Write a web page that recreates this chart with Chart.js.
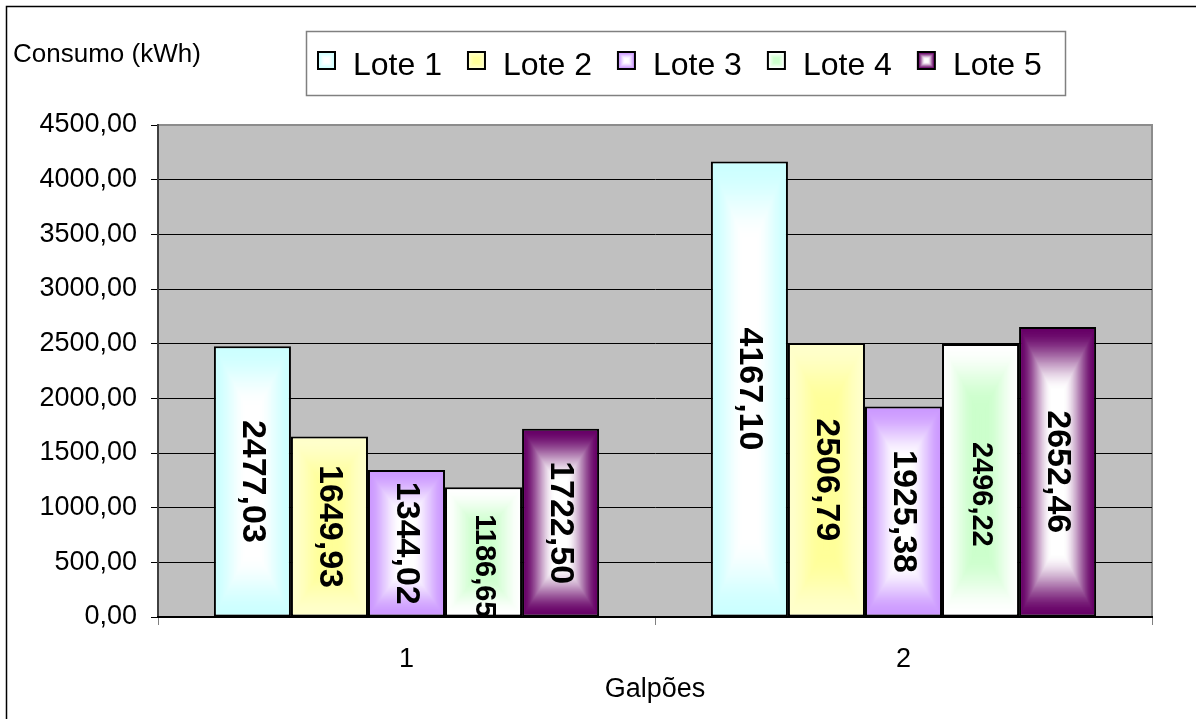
<!DOCTYPE html>
<html><head><meta charset="utf-8">
<script src="https://cdn.jsdelivr.net/npm/chart.js@4.4.0/dist/chart.umd.min.js"></script>
<style>html,body{margin:0;padding:0;background:#fff}#wrap{width:1196px;height:719px;position:relative}</style>
</head><body><div id="wrap"><canvas id="c" width="1196" height="719"></canvas></div>
<script>
// ---- data ----
const categories = ['1', '2'];
const seriesNames = ['Lote 1', 'Lote 2', 'Lote 3', 'Lote 4', 'Lote 5'];
const lote1 = [2477.03, 4167.10];
const lote2 = [1649.93, 2506.79];
const lote3 = [1344.02, 1925.38];
const lote4 = [1186.65, 2496.22];
const lote5 = [1722.50, 2652.46];
const yTickLabels = ['0,00', '500,00', '1000,00', '1500,00', '2000,00', '2500,00', '3000,00', '3500,00', '4000,00', '4500,00'];
const yAxisLabel = 'Consumo (kWh)';
const xAxisLabel = 'Galpões';

// ---- styles ----
const edgeColors = ['#CCFFFF', '#FFFFCC', '#CC99FF', '#FFFFFF', '#660066'];
const centerColors = ['#FFFFFF', '#FFFF99', '#FFFFFF', '#CCFFCC', '#FFFFFF'];
const FONT = '"Liberation Sans", Arial, sans-serif';

function hexRgb(h) { h = h.replace('#', ''); return [parseInt(h.substr(0, 2), 16), parseInt(h.substr(2, 2), 16), parseInt(h.substr(4, 2), 16)]; }
function mixColor(a, b, t) {
  const A = hexRgb(a), B = hexRgb(b);
  return 'rgb(' + A.map((v, i) => Math.round(v + (B[i] - v) * t)).join(',') + ')';
}
function gradCanvas(w, h, edge, center) {
  const W = Math.max(1, Math.round(w)), H = Math.max(1, Math.round(h));
  const cv = document.createElement('canvas'); cv.width = W; cv.height = H;
  const g = cv.getContext('2d');
  const hx = W / 2, hy = H / 2;
  const ry = Math.min(hy, Math.sqrt(hx * hy));
  const N = 60;
  for (let i = 0; i < N; i++) {
    const t = i / N;
    const ix = t * hx, iy = t * ry;
    const k = Math.min(1, t / 0.85);
    const e = k * k * (3 - 2 * k);
    g.fillStyle = mixColor(edge, center, e);
    g.fillRect(ix, iy, W - 2 * ix, H - 2 * iy);
  }
  return cv;
}
function fmt(v) { return v.toFixed(2).replace('.', ','); }

const seriesData = [lote1, lote2, lote3, lote4, lote5];

const fillPlugin = {
  id: 'fills',
  beforeDraw(chart) {
    const { ctx, chartArea: a } = chart;
    ctx.save();
    ctx.fillStyle = '#fff'; ctx.fillRect(0, 0, chart.width, chart.height);
    ctx.strokeStyle = '#000'; ctx.lineWidth = 1.5;
    ctx.strokeRect(6.5, 6.5, 1300, 800);
    ctx.fillStyle = '#C0C0C0';
    ctx.fillRect(a.left, a.top, a.right - a.left, a.bottom - a.top);
    ctx.strokeStyle = '#8C8C8C'; ctx.lineWidth = 2;
    ctx.strokeRect(a.left, a.top, a.right - a.left, a.bottom - a.top);
    ctx.restore();
  },
  beforeDatasetsDraw(chart) {
    const ctx = chart.ctx;
    chart.data.datasets.forEach((ds, di) => {
      const meta = chart.getDatasetMeta(di);
      meta.data.forEach(el => {
        const p = el.getProps(['x', 'y', 'base', 'width'], true);
        const left = p.x - p.width / 2, top = Math.min(p.y, p.base);
        const h = Math.abs(p.base - p.y);
        const cv = gradCanvas(p.width, h, edgeColors[di], centerColors[di]);
        const pat = ctx.createPattern(cv, 'no-repeat');
        pat.setTransform(new DOMMatrix([1, 0, 0, 1, left, top]));
        el.options.backgroundColor = pat;
      });
    });
  },
  afterDatasetsDraw(chart) {
    const ctx = chart.ctx;
    chart.data.datasets.forEach((ds, di) => {
      const meta = chart.getDatasetMeta(di);
      meta.data.forEach((el, i) => {
        const p = el.getProps(['x', 'y', 'base'], true);
        const cy = (p.y + p.base) / 2 + (di === 3 ? 14 : 0);
        ctx.save();
        ctx.translate(p.x, cy);
        ctx.rotate(Math.PI / 2);
        ctx.textAlign = 'center'; ctx.textBaseline = 'middle';
        ctx.fillStyle = '#000';
        ctx.font = 'bold ' + (di === 3 ? 29 : 34) + 'px ' + FONT;
        ctx.fillText(fmt(ds.data[i]), 0, 0);
        ctx.restore();
      });
    });
  },
  afterDraw(chart) {
    const ctx = chart.ctx;
    ctx.save();
    ctx.fillStyle = '#000';
    ctx.font = '26px ' + FONT;
    ctx.textBaseline = 'alphabetic'; ctx.textAlign = 'left';
    ctx.fillText(yAxisLabel, 13, 62);
    ctx.fillStyle = '#fff';
    ctx.fillRect(306, 31, 760, 65);
    ctx.strokeStyle = '#808080'; ctx.lineWidth = 1.5;
    ctx.strokeRect(306.5, 31.5, 759, 64);
    ctx.font = '32px ' + FONT;
    let x = 318;
    chart.data.datasets.forEach((ds, di) => {
      const cv = gradCanvas(17, 17, edgeColors[di], centerColors[di]);
      ctx.drawImage(cv, x, 52);
      ctx.strokeStyle = '#000'; ctx.lineWidth = 2;
      ctx.strokeRect(x, 52, 17, 17);
      ctx.fillStyle = '#000';
      ctx.fillText(ds.label, x + 35, 75);
      x += 35 + ctx.measureText(ds.label).width + 26;
    });
    ctx.restore();
  }
};

new Chart(document.getElementById('c'), {
  type: 'bar',
  data: {
    labels: categories,
    datasets: seriesNames.map((n, i) => ({
      label: n,
      data: seriesData[i],
      backgroundColor: (c) => edgeColors[c.datasetIndex],
      borderColor: '#000',
      borderWidth: 2,
      borderSkipped: false,
      categoryPercentage: 0.775,
      barPercentage: 1.0
    }))
  },
  options: {
    responsive: false,
    devicePixelRatio: 1,
    animation: false,
    layout: { padding: { left: 0, top: 125, right: 44, bottom: 0 } },
    plugins: { legend: { display: false }, tooltip: { enabled: false }, title: { display: false } },
    scales: {
      y: {
        min: 0, max: 4500,
        afterFit: (s) => { s.width = 158; },
        afterBuildTicks: (s) => { s.ticks = yTickLabels.map((t, i) => ({ value: i * 500 })); },
        ticks: {
          callback: (v, i) => yTickLabels[i],
          color: '#000', padding: 14,
          font: { family: FONT, size: 27 }
        },
        grid: {
          color: (c) => (c.tick && c.tick.value === 4500) ? '#8C8C8C' : '#000',
          tickColor: '#000', tickLength: 7, lineWidth: 1
        },
        border: { display: true, color: '#404040', width: 2 }
      },
      x: {
        afterFit: (s) => { s.height = 102; },
        ticks: { color: '#000', padding: 18, font: { family: FONT, size: 27 } },
        grid: { display: true, drawOnChartArea: false, offset: true, tickLength: 8, color: '#808080', tickColor: '#808080' },
        border: { display: true, color: '#000', width: 2 },
        title: { display: true, text: xAxisLabel, color: '#000', font: { family: FONT, size: 27 }, padding: { top: 0, bottom: 13 } }
      }
    }
  },
  plugins: [fillPlugin]
});
</script>
</body></html>
